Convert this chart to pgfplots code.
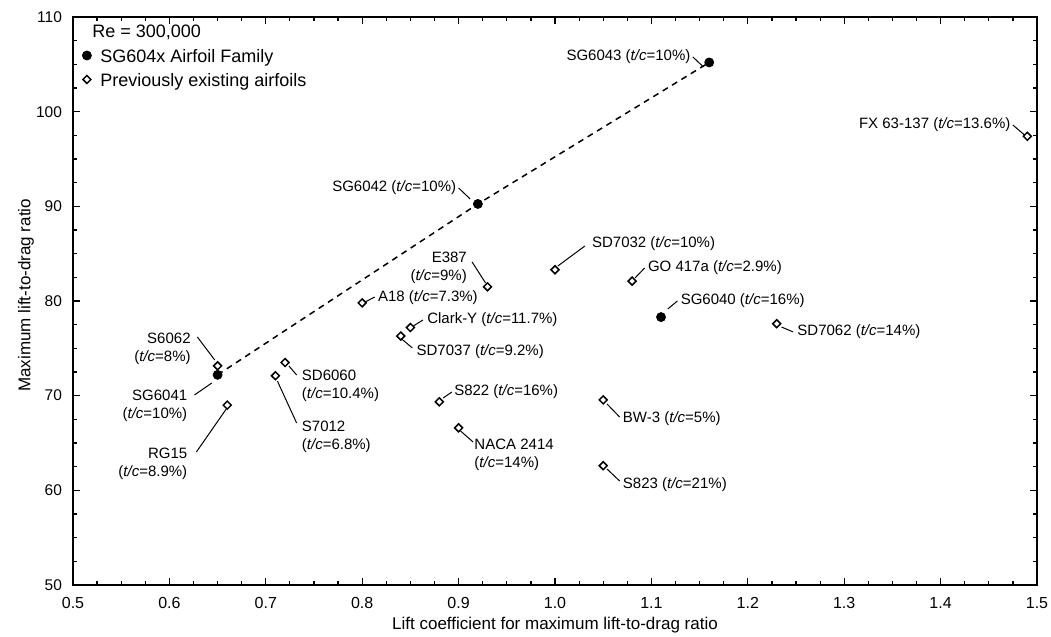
\documentclass[border=0pt]{standalone}
\usepackage{fontspec}
\setmainfont{Liberation Sans}
\usepackage{pgfplots}
\pgfplotsset{compat=1.18}

\tikzset{
    lbl/.style={font=\fontsize{7.5}{9}\selectfont, inner sep=1pt},
    lead/.style={black, line width=0.5pt},
}

\begin{document}
\begin{tikzpicture}
% page size = reference size, 1px = 0.5pt
\path[use as bounding box] (-36.5pt,-26pt) rectangle (489pt,292.5pt);
\begin{axis}[
    scale only axis,
    width=482pt, height=284pt,
    xmin=0.5, xmax=1.5,
    ymin=50, ymax=110,
    xtick distance=0.1,
    ytick distance=10,
    minor x tick num=3,
    minor y tick num=3,
    tick align=inside,
    tick pos=both,
    major tick length=3.5pt,
    minor tick length=2pt,
    axis line style={line width=0.8pt},
    every tick/.style={black, line width=0.6pt},
    /pgf/number format/assume math mode=true,
    xticklabel style={font=\fontsize{8}{9.6}\selectfont, yshift=-2.5pt,
        /pgf/number format/.cd, fixed, fixed zerofill, precision=1},
    yticklabel style={font=\fontsize{7.75}{9}\selectfont, xshift=-2pt},
    xlabel={Lift coefficient for maximum lift-to-drag ratio},
    ylabel={Maximum lift-to-drag ratio},
    xlabel style={at={(axis description cs:0.5,-0.0704)}, anchor=center,
        font=\fontsize{8.5}{10}\selectfont},
    ylabel style={at={(axis description cs:-0.0488,0.51)}, anchor=center,
        font=\fontsize{8.5}{10}\selectfont},
    legend style={draw=none, fill=none, at={(rel axis cs:0,1)},
        anchor=north west, xshift=4.5pt, yshift=-16.2pt, inner sep=0pt,
        row sep=3.5pt, column sep=2.5pt,
        font=\fontsize{9}{10.8}\selectfont,
        nodes={inner xsep=2pt, inner ysep=0pt, text height=6.5pt, text depth=2pt}},
    legend cell align=left,
    legend image code/.code={\draw[#1] plot coordinates {(0pt,1.4pt)};},
]
% dashed line through SG6041, SG6042, SG6043
\addplot[forget plot, black, line width=0.75pt, dash pattern=on 3pt off 2.5pt]
coordinates {
(0.65, 72.2)
(0.92, 90.25)
(1.16, 105.2)
};

% SG604x family
\addplot[only marks, mark=*, mark size=2.25pt, black]
coordinates {
(0.65, 72.2)   % SG6041
(0.92, 90.25)  % SG6042
(1.16, 105.2)  % SG6043
(1.11, 78.3)   % SG6040
};
\addlegendentry{SG604x Airfoil Family}

% previously existing airfoils
\addplot[only marks, mark=square*, mark size=1.4pt, black,
    mark options={rotate=45, fill=white, line width=0.75pt}]
coordinates {
(0.65, 73.15)  % S6062
(0.72, 73.5)   % SD6060
(0.71, 72.1)   % S7012
(0.66, 69.0)   % RG15
(0.80, 79.8)   % A18
(0.85, 77.2)   % Clark-Y
(0.84, 76.3)   % SD7037
(0.93, 81.5)   % E387
(1.00, 83.3)   % SD7032
(1.08, 82.1)   % GO 417a
(1.23, 77.6)   % SD7062
(0.88, 69.35)  % S822
(0.90, 66.6)   % NACA 2414
(1.05, 69.55)  % BW-3
(1.05, 62.6)   % S823
(1.49, 97.4)   % FX 63-137
};
\addlegendentry{Previously existing airfoils}

\node[anchor=west, inner sep=0pt, font=\fontsize{9}{10.8}\selectfont]
    at (axis cs:0.5197,108.42) {Re = 300,000};

% labels with leader lines
\draw[lead] (axis cs:1.154,104.72) -- (axis cs:1.143,105.78)
    node[lbl, anchor=east] {SG6043 (\textit{t/c}=10\%)};
\draw[lead] (axis cs:0.912,90.78) -- (axis cs:0.900,91.94)
    node[lbl, anchor=east] {SG6042 (\textit{t/c}=10\%)};
\draw[lead] (axis cs:1.487,97.54) -- (axis cs:1.475,98.59)
    node[lbl, anchor=east] {FX 63-137 (\textit{t/c}=13.6\%)};

\draw[lead] (axis cs:0.647,73.77) -- (axis cs:0.629,76.20);
\node[lbl, anchor=east, align=right] at (axis cs:0.6245,74.93)
    {S6062\\(\textit{t/c}=8\%)};
\draw[lead] (axis cs:0.644,71.34) -- (axis cs:0.626,70.07);
\node[lbl, anchor=east, align=right] at (axis cs:0.621,68.91)
    {SG6041\\(\textit{t/c}=10\%)};
\draw[lead] (axis cs:0.659,68.59) -- (axis cs:0.628,64.05);
\node[lbl, anchor=east, align=right] at (axis cs:0.621,62.78)
    {RG15\\(\textit{t/c}=8.9\%)};

\draw[lead] (axis cs:0.724,73.14) -- (axis cs:0.732,72.18);
\node[lbl, anchor=west, align=left] at (axis cs:0.735,71.02)
    {SD6060\\(\textit{t/c}=10.4\%)};
\draw[lead] (axis cs:0.712,71.55) -- (axis cs:0.732,67.11);
\node[lbl, anchor=west, align=left] at (axis cs:0.735,65.64)
    {S7012\\(\textit{t/c}=6.8\%)};

\draw[lead] (axis cs:0.803,79.90) -- (axis cs:0.813,80.42);
\node[lbl, anchor=west] at (axis cs:0.814,80.32) {A18 (\textit{t/c}=7.3\%)};
\draw[lead] (axis cs:0.853,77.36) -- (axis cs:0.863,77.99);
\node[lbl, anchor=west] at (axis cs:0.865,77.99) {Clark-Y (\textit{t/c}=11.7\%)};
\draw[lead] (axis cs:0.841,75.99) -- (axis cs:0.852,75.04);
\node[lbl, anchor=west] at (axis cs:0.854,74.61) {SD7037 (\textit{t/c}=9.2\%)};

\draw[lead] (axis cs:0.928,81.90) -- (axis cs:0.914,84.12);
\node[lbl, anchor=east, align=right] at (axis cs:0.911,83.54)
    {E387\\(\textit{t/c}=9\%)};

\draw[lead] (axis cs:1.003,83.70) -- (axis cs:1.031,85.81);
\node[lbl, anchor=west] at (axis cs:1.036,86.02) {SD7032 (\textit{t/c}=10\%)};
\draw[lead] (axis cs:1.083,82.43) -- (axis cs:1.093,83.49);
\node[lbl, anchor=west] at (axis cs:1.094,83.49) {GO 417a (\textit{t/c}=2.9\%)};
\draw[lead] (axis cs:1.117,79.16) -- (axis cs:1.127,80.00);
\node[lbl, anchor=west] at (axis cs:1.128,80.00) {SG6040 (\textit{t/c}=16\%)};
\draw[lead] (axis cs:1.235,77.25) -- (axis cs:1.247,76.73);
\node[lbl, anchor=west] at (axis cs:1.249,76.73) {SD7062 (\textit{t/c}=14\%)};

\draw[lead] (axis cs:0.884,69.75) -- (axis cs:0.893,70.39);
\node[lbl, anchor=west] at (axis cs:0.893,70.39) {S822 (\textit{t/c}=16\%)};
\draw[lead] (axis cs:0.902,66.27) -- (axis cs:0.915,65.11);
\node[lbl, anchor=west, align=left] at (axis cs:0.914,63.73)
    {NACA 2414\\(\textit{t/c}=14\%)};
\draw[lead] (axis cs:1.054,69.12) -- (axis cs:1.067,67.75);
\node[lbl, anchor=west] at (axis cs:1.068,67.54) {BW-3 (\textit{t/c}=5\%)};
\draw[lead] (axis cs:1.054,62.25) -- (axis cs:1.067,60.99);
\node[lbl, anchor=west] at (axis cs:1.068,60.57) {S823 (\textit{t/c}=21\%)};

\end{axis}
\end{tikzpicture}
\end{document}
